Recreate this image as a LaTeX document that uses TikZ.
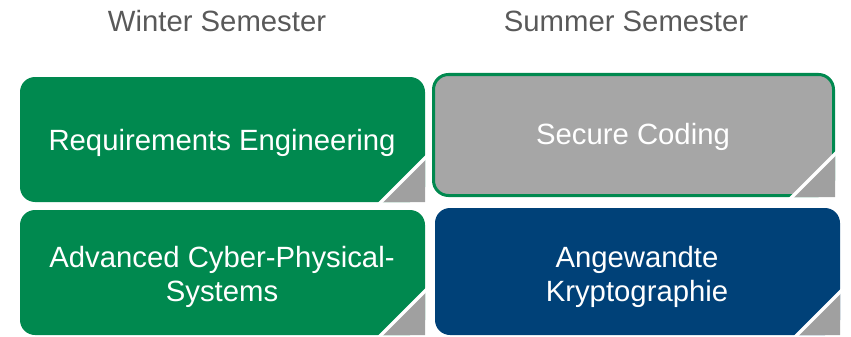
\documentclass[tikz,border=0pt]{standalone}
\usepackage{fontspec}
\setmainfont{Liberation Sans}
\definecolor{tgreen}{RGB}{0,137,79}
\definecolor{tblue}{RGB}{0,65,120}
\definecolor{tgray}{RGB}{166,166,166}
\definecolor{tcorner}{RGB}{160,160,160}
\definecolor{ttitle}{RGB}{89,89,89}
\tikzset{
  boxtext/.style={text=white, font=\fontsize{29.3}{34}\selectfont, align=center, inner sep=0pt},
  titletext/.style={text=ttitle, font=\fontsize{29.3}{34}\selectfont, inner sep=0pt},
  cornertri/.style={fill=tcorner},
  gapline/.style={draw=white, line width=3.5pt},
}
\begin{document}
\begin{tikzpicture}[x=1pt,y=-1pt]
\useasboundingbox (0,0) rectangle (851,337);
% titles
\node[titletext] (wt) at (217,21) {Winter Semester};
\node[titletext] (st) at (626,21) {Summer Semester};
% box 1
\fill[tgreen, rounded corners=15pt] (20,77) rectangle (425,202);
\fill[cornertri] (381,202) -- (425,202) -- (425,158) -- cycle;
\draw[gapline] (378,205) -- (428,155);
\node[boxtext] (re) at (222,143) {Requirements Engineering};
% box 2
\fill[tgray, rounded corners=15pt] (433.5,74.5) rectangle (833.5,195.5);
\draw[tgreen, line width=3pt, rounded corners=15pt] (433.5,74.5) rectangle (833.5,195.5);
\fill[cornertri] (792,197) -- (835,197) -- (835,154) -- cycle;
\draw[gapline] (789,200) -- (838,151);
\node[boxtext] (sc) at (633,137) {Secure Coding};
% box 3
\fill[tgreen, rounded corners=15pt] (20,210) rectangle (425,335);
\fill[cornertri] (381,335) -- (425,335) -- (425,291) -- cycle;
\draw[gapline] (378,338) -- (428,288);
\node[boxtext] (acps) at (222,277) {Advanced Cyber-Physical-\\Systems};
% box 4
\fill[tblue, rounded corners=15pt] (435,208) rectangle (840,335);
\fill[cornertri] (797,335) -- (840,335) -- (840,292) -- cycle;
\draw[gapline] (794,338) -- (843,289);
\node[boxtext] (ak) at (637,277) {Angewandte\\Kryptographie};
\end{tikzpicture}
\end{document}
